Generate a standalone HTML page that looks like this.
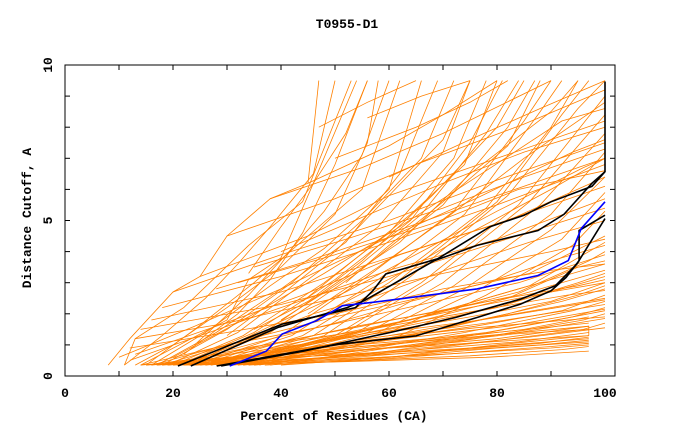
<!DOCTYPE html>
<html><head><meta charset="utf-8"><style>
body{margin:0;background:#fff;}
svg{display:block;font-family:"Liberation Mono",monospace;font-weight:bold;}
</style></head><body>
<svg id="chart" width="680" height="440" viewBox="0 0 680 440">
<text x="347" y="28" font-size="13" text-anchor="middle">T0955-D1</text>
<g id="plot"></g>
<rect x="65" y="65" width="550" height="311" fill="none" stroke="#000" stroke-width="1"/>
<g id="axes"></g>
<text x="334" y="420" font-size="13" text-anchor="middle">Percent of Residues (CA)</text>
<text x="0" y="0" font-size="13" text-anchor="middle" transform="translate(31,218) rotate(-90)">Distance Cutoff, A</text>
</svg>
<script>
const xTicks=[0,20,40,60,80,100];
const yTicks=[0,5,10];
const orangeCurves=[
[[8,0.35],[12,1.2],[20,2.7],[25,3.2],[30,4.5],[38,5.7],[45,6.2],[47,9.5]],
[[11,0.35],[18,1.3],[26,2.5],[32,3.6],[38,4.8],[46,6.5],[50,9.5]],
[[11,0.35],[13,1.2],[22,2.2],[34,4.2],[44,5.6],[53,9.5]],
[[13,0.35],[20,1.0],[30,2.2],[40,3.5],[50,5.2],[56,7.5],[58,9.5]],
[[15,0.35],[24,1.5],[35,3.0],[45,4.5],[55,6.0],[62,9.5]],
[[16,0.35],[26,1.4],[38,2.9],[48,4.1],[60,6.0],[66,9.5]],
[[17,0.35],[28,1.4],[40,2.8],[52,4.3],[62,6.5],[69,9.5]],
[[18,0.35],[30,1.5],[42,3.0],[55,5.0],[66,7.0],[72,9.5]],
[[19,0.35],[32,1.4],[45,3.1],[58,4.8],[70,7.2],[75,9.5]],
[[20,0.35],[33,1.3],[48,3.0],[60,4.6],[72,7.0],[78,9.5]],
[[21,0.35],[35,1.4],[50,3.1],[64,5.0],[75,7.5],[81,9.5]],
[[22,0.35],[36,1.3],[52,3.2],[66,5.2],[78,7.8],[84,9.5]],
[[23,0.35],[38,1.4],[54,3.3],[70,5.5],[82,8.0],[87,9.5]],
[[24,0.35],[40,1.3],[56,3.2],[72,5.3],[85,8.2],[90,9.5]],
[[25,0.35],[42,1.3],[58,3.1],[74,5.2],[88,8.5],[92,9.5]],
[[26,0.35],[44,1.3],[60,3.0],[78,5.4],[90,8.0],[95,9.5]],
[[27,0.35],[46,1.3],[62,3.1],[80,5.6],[92,8.4],[97,9.5]],
[[28,0.35],[48,1.3],[64,3.2],[82,5.8],[95,8.6],[100,9.5]],
[[29,0.35],[50,1.3],[66,3.0],[84,5.5],[100,9.0]],
[[30,0.35],[52,1.4],[68,3.1],[86,5.6],[100,8.4]],
[[31,0.35],[54,1.4],[70,3.0],[88,5.5],[100,7.8]],
[[32,0.35],[56,1.4],[72,2.9],[90,5.2],[100,7.2]],
[[33,0.35],[58,1.4],[74,2.8],[90,4.7],[100,6.4]],
[[34,0.35],[60,1.4],[76,2.7],[92,4.4],[100,5.9]],
[[35,0.35],[62,1.3],[78,2.6],[94,4.2],[100,5.3]],
[[14,0.35],[30,1.8],[34,3.1],[40,3.8],[46,6.2],[54,9.5]],
[[22,0.7],[32,2.0],[38,3.1],[44,4.6],[50,6.8],[56,9.5]],
[[24,1.0],[34,2.6],[42,4.1],[48,5.3],[55,7.1],[60,9.5]],
[[30,1.3],[40,2.6],[50,4.0],[60,5.8],[70,7.6],[75,9.5]],
[[35,1.5],[45,2.4],[55,3.7],[68,5.8],[80,8.0],[85,9.5]],
[[40,1.8],[50,2.9],[62,4.3],[75,6.5],[90,8.5],[95,9.5]],
[[45,2.0],[58,3.5],[70,5.0],[85,7.0],[100,8.8]],
[[50,2.2],[62,3.3],[75,4.6],[90,6.0],[100,7.0]],
[[15,0.35],[35,0.8],[55,1.3],[75,1.9],[90,2.4],[100,3.0]],
[[16,0.35],[36,0.7],[56,1.1],[76,1.6],[92,2.1],[100,2.6]],
[[17,0.35],[38,0.7],[58,1.0],[78,1.4],[94,1.9],[100,2.2]],
[[18,0.35],[40,0.6],[60,0.9],[80,1.2],[97,1.6],[97,1.3]],
[[19,0.35],[42,0.6],[62,0.8],[84,1.1],[97,1.4]],
[[20,0.35],[44,0.55],[65,0.75],[88,1.0],[97,1.15]],
[[21,0.35],[46,0.5],[70,0.7],[90,0.9],[97,1.0]],
[[22,0.35],[48,0.45],[75,0.65],[92,0.85],[97,0.95]],
[[23,0.35],[50,0.45],[78,0.6],[97,0.8]],
[[24,0.35],[40,0.9],[60,1.5],[80,2.2],[95,3.0],[100,3.3]],
[[25,0.35],[42,0.9],[62,1.6],[82,2.5],[95,3.5],[100,3.7]],
[[26,0.35],[44,1.0],[64,1.8],[84,2.7],[97,3.7],[100,4.0]],
[[27,0.35],[46,1.1],[66,1.9],[86,2.9],[100,4.3]],
[[28,0.35],[48,1.1],[68,2.0],[88,3.0],[100,3.6]],
[[29,0.35],[50,1.0],[70,1.8],[90,2.7],[100,3.2]],
[[30,0.35],[52,0.9],[72,1.6],[92,2.4],[100,2.8]],
[[31,0.35],[54,0.8],[74,1.4],[94,2.1],[100,2.4]],
[[32,0.35],[56,0.7],[76,1.2],[96,1.8],[100,2.0]],
[[33,0.35],[58,0.7],[78,1.1],[96,1.5],[100,1.7]],
[[34,0.35],[60,0.6],[80,1.0],[97,1.3]],
[[14,0.35],[30,1.0],[48,1.6],[66,2.3],[84,3.0],[100,3.9]],
[[16,0.35],[32,1.1],[50,1.9],[68,2.6],[86,3.3],[100,4.5]],
[[12,0.5],[25,1.3],[40,2.2],[60,3.4],[80,4.4],[100,5.7]],
[[13,0.7],[28,1.6],[44,2.6],[62,3.9],[82,5.0],[100,6.4]],
[[10,0.6],[24,1.6],[40,2.8],[58,4.3],[76,5.7],[94,7.2],[100,7.6]],
[[26,0.6],[38,1.6],[52,2.7],[66,4.0],[80,5.3],[96,6.7],[100,7.0]],
[[20,0.6],[34,1.9],[48,3.3],[62,4.8],[78,6.6],[92,8.2],[100,8.6]],
[[36,0.35],[52,1.0],[66,1.4],[82,2.0],[95,2.6],[100,2.9]],
[[38,0.35],[56,0.8],[72,1.2],[88,1.7],[100,2.1]],
[[40,0.35],[60,0.6],[80,0.9],[97,1.1]],
[[18,0.35],[34,1.2],[46,2.0],[58,2.6],[72,3.5],[86,4.3],[100,5.0]],
[[20,0.35],[36,1.1],[50,1.7],[64,2.4],[78,3.0],[92,3.8],[100,4.2]],
[[22,0.35],[38,1.0],[54,1.6],[70,2.1],[84,2.6],[100,3.4]],
[[44,2.4],[54,3.8],[64,5.2],[74,6.8],[80,9.5]],
[[52,3.0],[60,4.2],[70,5.6],[82,7.4],[88,9.5]],
[[34,3.3],[40,4.8],[46,6.2],[52,7.8],[56,9.5]],
[[20,2.7],[40,3.9],[60,5.0],[80,6.3],[100,7.5]],
[[25,3.2],[45,4.5],[60,5.8],[80,7.0],[100,8.2]],
[[30,4.5],[50,5.7],[65,6.8],[85,8.1],[100,9.2]],
[[38,5.7],[55,6.7],[70,7.8],[90,9.5]],
[[45,6.2],[60,7.4],[70,8.4],[80,9.5]],
[[18,2.2],[40,3.2],[60,4.3],[80,5.5],[100,6.8]],
[[16,1.8],[40,2.7],[60,3.8],[80,4.9],[100,6.1]],
[[14,1.5],[40,2.3],[60,3.2],[80,4.3],[100,5.4]],
[[40,4.0],[55,5.1],[70,6.2],[85,7.2],[100,8.0]],
[[35,3.5],[52,4.4],[70,5.4],[85,6.4],[100,7.3]],
[[50,7.0],[65,8.0],[75,8.8],[82,9.5]],
[[47,8.0],[56,8.8],[65,9.5]],
[[56,8.3],[66,9.0],[75,9.5]],
[[60,6.4],[75,7.6],[88,8.6],[100,9.5]],
[[28,2.8],[45,3.7],[62,4.7],[80,5.8],[100,7.0]],
[[32,3.0],[50,3.9],[68,4.9],[84,6.0],[100,6.6]],
[[14,0.35],[30,0.6],[50,0.8],[70,1.0],[97,1.3]],
[[15,0.35],[32,0.55],[55,0.7],[75,0.9],[97,1.2]],
[[17,0.35],[34,0.6],[52,0.9],[72,1.2],[97,1.6]],
[[19,0.35],[36,0.7],[54,1.0],[74,1.3],[97,1.7]],
[[21,0.35],[38,0.75],[56,1.15],[76,1.55],[100,1.9]],
[[23,0.35],[40,0.8],[58,1.25],[78,1.7],[100,2.3]],
[[25,0.35],[42,0.85],[60,1.3],[80,1.9],[100,2.5]],
[[27,0.35],[44,0.75],[62,1.2],[82,1.6],[100,2.15]],
[[29,0.35],[46,0.65],[64,1.0],[84,1.4],[100,1.85]],
[[31,0.35],[48,0.6],[66,0.9],[86,1.25],[100,1.55]],
[[35,0.35],[50,0.55],[68,0.8],[88,1.05],[97,1.25]],
[[37,0.35],[55,0.5],[72,0.72],[90,0.95],[97,1.05]],
[[26,0.35],[45,0.7],[65,1.1],[85,1.5],[97,1.9]],
[[24,0.35],[43,0.65],[63,0.95],[83,1.35],[97,1.5]],
[[18,0.35],[35,0.95],[53,1.4],[73,2.0],[93,2.6],[100,2.75]],
[[20,0.35],[37,1.0],[55,1.6],[75,2.3],[95,2.9],[100,3.1]],
[[22,0.35],[39,0.85],[57,1.35],[77,1.8],[100,2.45]],
[[12,0.9],[30,1.4],[50,2.0],[70,2.8],[90,3.4],[100,3.6]],
[[13,1.2],[30,1.7],[50,2.5],[70,3.3],[90,4.0],[100,4.4]],
[[38,0.9],[55,1.5],[72,2.1],[90,2.7],[100,3.0]]
];
const blackCurves=[
[[20.9,0.32],[40.2,1.67],[53.8,2.2],[57,2.74],[59.4,3.28],[69,3.77],[78.7,4.8],[85,5.17],[90,5.6],[97.6,6.1],[100,6.57]],
[[23.3,0.32],[39.4,1.56],[52.2,2.2],[55.4,2.42],[68.3,3.7],[76.3,4.2],[87.6,4.68],[92.4,5.2],[97.6,6.2],[100,6.57],[100,9.47]],
[[28.1,0.32],[50.6,1.02],[65,1.29],[76.3,1.88],[84.3,2.31],[90,2.74],[92.8,3.17],[95.2,3.71],[95.2,4.68],[100,5.17]],
[[28.9,0.32],[44.2,0.8],[60.2,1.4],[72.3,1.88],[84.3,2.47],[90.8,2.9],[94.8,3.6],[100,5.06]]
];
const blueCurve=[[30.5,0.32],[37.3,0.8],[40.2,1.35],[46.6,1.78],[51.4,2.26],[57,2.37],[64.3,2.53],[76.3,2.8],[87.6,3.23],[93.2,3.71],[95.6,4.74],[100,5.6]];

const X=v=>65+v*5.4, Y=v=>376-v*31.1;
const NS="http://www.w3.org/2000/svg";
const plot=document.getElementById('plot'), axes=document.getElementById('axes');
function poly(pts,color,w,name){
  const p=document.createElementNS(NS,'polyline');
  p.setAttribute('points',pts.map(q=>X(q[0]).toFixed(1)+','+Y(q[1]).toFixed(1)).join(' '));
  p.setAttribute('fill','none');p.setAttribute('stroke',color);p.setAttribute('stroke-width',w);
  
  
  plot.appendChild(p);
}
orangeCurves.forEach(c=>poly(c,'#ff8000',0.8,'model-curve'));
blackCurves.forEach(c=>poly(c,'#000',1.6,'reference-curve'));
poly(blueCurve,'#0000ff',1.6,'target-curve');
function line(x1,y1,x2,y2){
  const l=document.createElementNS(NS,'line');
  l.setAttribute('x1',x1);l.setAttribute('y1',y1);l.setAttribute('x2',x2);l.setAttribute('y2',y2);
  l.setAttribute('stroke','#000');
  
  
  axes.appendChild(l);
}
for(let v=10;v<100;v+=10){line(X(v),376,X(v),371);line(X(v),65,X(v),70);}
for(let v=1;v<10;v++){line(65,Y(v),70,Y(v));line(615,Y(v),610,Y(v));}
xTicks.forEach(v=>{
  const t=document.createElementNS(NS,'text');
  t.setAttribute('x',X(v));t.setAttribute('y',397);t.setAttribute('font-size','13');t.setAttribute('text-anchor','middle');
  t.textContent=v;
  
  
  axes.appendChild(t);
});
yTicks.forEach(v=>{
  const t=document.createElementNS(NS,'text');
  t.setAttribute('font-size','13');t.setAttribute('text-anchor','middle');
  t.setAttribute('transform','translate(52,'+Y(v)+') rotate(-90)');
  t.textContent=v;
  
  
  axes.appendChild(t);
});
</script>
</body></html>
